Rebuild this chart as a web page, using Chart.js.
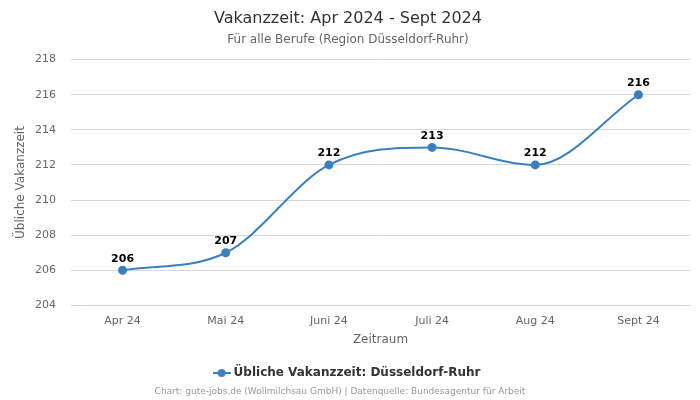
<!DOCTYPE html>
<html>
<head>
<meta charset="utf-8">
<script src="https://cdn.jsdelivr.net/npm/chart.js@4"></script>
<style>
  html, body { margin: 0; padding: 0; background: #fff; }
  #wrap { width: 700px; height: 400px; }
</style>
</head>
<body>
<div id="wrap"><canvas id="vakanzChart"></canvas></div>
<script>
"use strict";

// data
const months = ['Apr 24', 'Mai 24', 'Juni 24', 'Juli 24', 'Aug 24', 'Sept 24'];
const vakanzWerte = [206, 207, 212, 213, 212, 216];
const yTicks = [204, 206, 208, 210, 212, 214, 216, 218];

const lineColor = '#3a7fbf';
Chart.defaults.font.family = "'DejaVu Sans', sans-serif";

// legend symbol: line with a dot
const legendIcon = document.createElement('canvas');
legendIcon.width = 18;
legendIcon.height = 10;
(function () {
  const c = legendIcon.getContext('2d');
  c.strokeStyle = lineColor;
  c.lineWidth = 2;
  c.beginPath();
  c.moveTo(0, 5);
  c.lineTo(18, 5);
  c.stroke();
  c.fillStyle = lineColor;
  c.beginPath();
  c.arc(9, 5, 4, 0, Math.PI * 2);
  c.fill();
})();

// values above points + credit line
const extras = {
  id: 'extras',
  afterDatasetsDraw(chart) {
    const ctx = chart.ctx;
    const meta = chart.getDatasetMeta(0);
    ctx.save();
    ctx.font = "bold 11px 'DejaVu Sans', sans-serif";
    ctx.fillStyle = '#000';
    ctx.textAlign = 'center';
    ctx.textBaseline = 'bottom';
    meta.data.forEach(function (pt, i) {
      ctx.fillText(String(vakanzWerte[i]), pt.x, pt.y - 6);
    });
    ctx.restore();
  },
  afterDraw(chart) {
    const ctx = chart.ctx;
    ctx.save();
    ctx.font = "9px 'DejaVu Sans', sans-serif";
    ctx.fillStyle = '#999';
    ctx.textAlign = 'center';
    ctx.textBaseline = 'middle';
    ctx.fillText('Chart: gute-jobs.de (Wollmilchsau GmbH) | Datenquelle: Bundesagentur für Arbeit', 340, 392);
    ctx.restore();
  }
};

new Chart(document.getElementById('vakanzChart'), {
  type: 'line',
  data: {
    labels: months,
    datasets: [{
      label: 'Übliche Vakanzzeit: Düsseldorf-Ruhr',
      data: vakanzWerte,
      borderColor: lineColor,
      backgroundColor: lineColor,
      borderWidth: 2,
      pointRadius: 3.5,
      pointHoverRadius: 5,
      pointStyle: 'circle',
      cubicInterpolationMode: 'monotone',
      fill: false
    }]
  },
  options: {
    responsive: true,
    maintainAspectRatio: false,
    animation: false,
    layout: {
      padding: { left: 6, right: 10, top: 0, bottom: 11 }
    },
    scales: {
      x: {
        offset: true,
        grid: { display: false },
        border: { display: true, color: '#ccd6eb' },
        ticks: { color: '#666', font: { size: 11 }, padding: 1 },
        title: {
          display: true,
          text: 'Zeitraum',
          color: '#666',
          font: { size: 12 },
          padding: { top: 4, bottom: 6 }
        }
      },
      y: {
        min: 204,
        max: 218,
        afterBuildTicks: function (axis) {
          axis.ticks = yTicks.map(function (v) { return { value: v }; });
        },
        afterFit: function (axis) {
          axis.width = 65;
        },
        grid: { color: '#d8d8d8', drawTicks: false },
        border: { display: false },
        ticks: { color: '#666', font: { size: 11 }, padding: 15 },
        title: {
          display: true,
          text: 'Übliche Vakanzzeit',
          color: '#666',
          font: { size: 12 },
          padding: { top: 8, bottom: 0 }
        }
      }
    },
    plugins: {
      title: {
        display: true,
        text: 'Vakanzzeit: Apr 2024 - Sept 2024',
        color: '#333',
        font: { size: 16, weight: 'normal' },
        padding: { top: 9, bottom: 4 }
      },
      subtitle: {
        display: true,
        text: 'Für alle Berufe (Region Düsseldorf-Ruhr)',
        color: '#666',
        font: { size: 12 },
        padding: { bottom: 13 }
      },
      legend: {
        position: 'bottom',
        labels: {
          usePointStyle: true,
          pointStyle: legendIcon,
          color: '#333',
          font: { size: 12, weight: 'bold' },
          padding: 14
        }
      },
      tooltip: { enabled: false }
    }
  },
  plugins: [extras]
});
</script>
</body>
</html>
